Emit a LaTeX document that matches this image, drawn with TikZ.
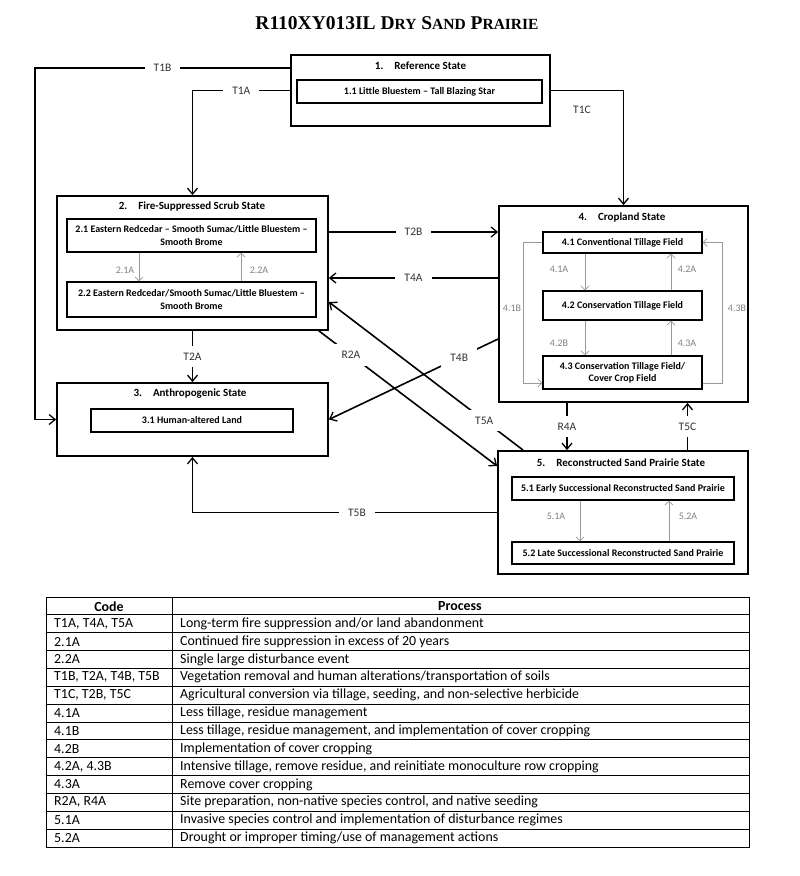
\documentclass[tikz,border=0pt]{standalone}
\usepackage{fontspec}
\setmainfont{Carlito}
\newfontfamily\titlefont{Liberation Serif}
\usetikzlibrary{arrows.meta,calc}
\newcommand\fakesc[1]{{\fontsize{15.5}{18}\selectfont #1}}
\begin{document}
\begin{tikzpicture}[x=1pt,y=-1pt,
  statebox/.style={draw,line width=1.8pt,inner sep=0pt},
  subbox/.style={draw,line width=1.1pt,inner sep=0pt,font=\fontsize{10}{12.3}\selectfont\bfseries,align=center},
  stitle/.style={font=\fontsize{11}{13}\selectfont\bfseries,inner sep=0pt},
  conn/.style={line width=1.6pt,-{Straight Barb[length=6pt,width=10pt,line width=1.3pt]}},
  lbl/.style={fill=white,text=black!80,font=\fontsize{11.5}{13}\selectfont,inner xsep=9pt,inner ysep=7pt},
  iconn/.style={draw=black!40,line width=0.9pt,-{Straight Barb[length=4pt,width=8pt,line width=0.8pt]}},
  ilbl/.style={text=black!50,font=\fontsize{10}{12}\selectfont,inner sep=0pt},
  tbl/.style={font=\fontsize{13.9}{15}\selectfont,inner sep=0pt}
]
\useasboundingbox (0,0) rectangle (800,876);

% title
\node[inner sep=0pt,font=\titlefont\bfseries\fontsize{19.5}{22}\selectfont] (title) at (397,23)
  {R110XY013IL D\fakesc{RY} S\fakesc{AND} P\fakesc{RAIRIE}};

% state 1
\node[statebox,minimum width=259pt,minimum height=71pt] (s1) at (420.5,90.5) {};
\node[stitle] (s1t) at (420.5,66) {1.\hspace{11pt}Reference State};
\node[subbox,minimum width=245pt,minimum height=23pt] (r11) at (419.5,91.5) {1.1 Little Bluestem – Tall Blazing Star};

% state 2
\node[statebox,minimum width=271pt,minimum height=134pt] (s2) at (192.5,263) {};
\node[stitle] (s2t) at (192,207) {2.\hspace{11pt}Fire-Suppressed Scrub State};
\node[subbox,minimum width=249pt,minimum height=33pt] (r21) at (191.5,235.5) {2.1 Eastern Redcedar – Smooth Sumac/Little Bluestem –\\Smooth Brome};
\node[subbox,minimum width=249pt,minimum height=35pt] (r22) at (191.5,299.5) {2.2 Eastern Redcedar/Smooth Sumac/Little Bluestem –\\Smooth Brome};

% state 3
\node[statebox,minimum width=271pt,minimum height=73pt] (s3) at (192.5,419.5) {};
\node[stitle] (s3t) at (190,394) {3.\hspace{11pt}Anthropogenic State};
\node[subbox,minimum width=202pt,minimum height=23pt] (r31) at (192,420.5) {3.1 Human-altered Land};

% state 4
\node[statebox,minimum width=249pt,minimum height=196pt] (s4) at (623.5,304) {};
\node[stitle] (s4t) at (622,218) {4.\hspace{11pt}Cropland State};
\node[subbox,minimum width=159pt,minimum height=21pt] (r41) at (622.5,242.5) {4.1 Conventional Tillage Field};
\node[subbox,minimum width=159pt,minimum height=29pt] (r42) at (622.5,305.5) {4.2 Conservation Tillage Field};
\node[subbox,minimum width=159pt,minimum height=33pt] (r43) at (622.5,372.5) {4.3 Conservation Tillage Field/\\Cover Crop Field};

% state 5
\node[statebox,minimum width=250pt,minimum height=123pt] (s5) at (623,512.5) {};
\node[stitle] (s5t) at (621,463) {5.\hspace{11pt}Reconstructed Sand Prairie State};
\node[subbox,minimum width=222pt,minimum height=23pt] (r51) at (623,488.5) {5.1 Early Successional Reconstructed Sand Prairie};
\node[subbox,minimum width=222pt,minimum height=22pt] (r52) at (623,553) {5.2 Late Successional Reconstructed Sand Prairie};

% helper coordinates
\coordinate (t1bc) at (35,68);
\coordinate (t2bs) at ([yshift=31pt]s2.east);
\coordinate (t4as) at ([yshift=-15pt]s2.east);
\coordinate (t4bs) at ([yshift=-35pt]s4.west);
\coordinate (r2as) at ([xshift=-10pt]s2.south east);
\coordinate (r2ae) at ([yshift=46.5pt]s5.west);
\coordinate (t5as) at ([xshift=26pt]s5.north west);
\coordinate (t5ae) at ([yshift=-39pt]s2.east);
\coordinate (r4a) at ([xshift=-56.5pt]s4.south);
\coordinate (t5c) at ([xshift=64.5pt]s5.north);

% main connectors
\draw[conn] ([yshift=22.5pt]s1.west) -- node[lbl]{T1B} (t1bc) |- (s3.west);
\draw[conn] (s1.west) -- node[lbl]{T1A} (s1.west -| s2.north) -- (s2.north);
\draw[conn] (s1.east) -| (s4.north);
\node[text=black!80,font=\fontsize{11.5}{13}\selectfont,inner sep=0pt] (t1cl) at (582,110) {T1C};
\draw[conn] (t2bs) -- node[lbl]{T2B} (t2bs -| s4.west);
\draw[conn] (t4as -| s4.west) -- node[lbl]{T4A} (t4as);
\draw[conn] (s2.south) -- node[lbl]{T2A} (s3.north);
\draw[conn] (t4bs) -- node[lbl,pos=.23]{T4B} (s3.east);
\draw[conn] (r2as) -- node[lbl,pos=.18]{R2A} (r2ae);
\draw[conn] (t5as) -- node[lbl,pos=.2]{T5A} (t5ae);
\draw[conn] (r4a) -- node[lbl]{R4A} (r4a |- s5.north);
\draw[conn] (t5c) -- node[lbl]{T5C} (t5c |- s4.south);
\draw[conn] (s5.west) -- node[lbl,pos=.46]{T5B} (s5.west -| s3.south) -- (s3.south);

% inner transitions state 2
\coordinate (a21) at ([xshift=-52.5pt]r21.south);
\coordinate (a22) at ([xshift=49.5pt]r22.north);
\draw[iconn] (a21) -- (a21 |- r22.north);
\draw[iconn] (a22) -- (a22 |- r21.south);
\node[ilbl] (l21a) at (125,270) {2.1A};
\node[ilbl] (l22a) at (259,270) {2.2A};

% inner transitions state 4
\coordinate (a41) at ([xshift=-37.5pt]r41.south);
\coordinate (a42) at ([xshift=48.5pt]r42.north);
\coordinate (a42b) at ([xshift=-37.5pt]r42.south);
\coordinate (a43) at ([xshift=48.5pt]r43.north);
\draw[iconn] (a41) -- (a41 |- r42.north);
\draw[iconn] (a42) -- (a42 |- r41.south);
\draw[iconn] (a42b) -- (a42b |- r43.north);
\draw[iconn] (a43) -- (a43 |- r42.south);
\node[ilbl] (l41a) at (559,269) {4.1A};
\node[ilbl] (l42a) at (687,269) {4.2A};
\node[ilbl] (l42b) at (559,343) {4.2B};
\node[ilbl] (l43a) at (687,343) {4.3A};
\coordinate (b41) at (523,242.5);
\coordinate (b43) at ([yshift=-10.5pt]r43.west);
\coordinate (b43e) at ([yshift=-10.5pt]r43.east);
\draw[iconn] (r41.west) -- (b41) |- (b43);
\draw[iconn] (b43e) -- (b43e -| 722,0) |- (r41.east);
\node[ilbl] (l41b) at (512,308) {4.1B};
\node[ilbl] (l43b) at (737,308) {4.3B};

% inner transitions state 5
\coordinate (a51) at ([xshift=-43pt]r51.south);
\coordinate (a52) at ([xshift=46pt]r52.north);
\draw[iconn] (a51) -- (a51 |- r52.north);
\draw[iconn] (a52) -- (a52 |- r51.south);
\node[ilbl] (l51a) at (556,516) {5.1A};
\node[ilbl] (l52a) at (688,516) {5.2A};

% table
\draw[line width=0.9pt] (46,597) rectangle (749,847);
\foreach \i in {1,...,13} \draw[line width=0.8pt] (46,{597+\i*17.857}) -- (749,{597+\i*17.857});
\draw[line width=0.8pt] (172,597) -- (172,847);
\node[tbl,font=\fontsize{13.9}{15}\selectfont\bfseries] (hc) at (109,606.4) {Code};
\node[tbl,font=\fontsize{13.9}{15}\selectfont\bfseries] (hp) at (460,606.4) {Process};
\foreach \c/\p [count=\i] in {
 {T1A, T4A, T5A}/{Long-term fire suppression and/or land abandonment},
 {2.1A}/{Continued fire suppression in excess of 20 years},
 {2.2A}/{Single large disturbance event},
 {T1B, T2A, T4B, T5B}/{Vegetation removal and human alterations/transportation of soils},
 {T1C, T2B, T5C}/{Agricultural conversion via tillage, seeding, and non-selective herbicide},
 {4.1A}/{Less tillage, residue management},
 {4.1B}/{Less tillage, residue management, and implementation of cover cropping},
 {4.2B}/{Implementation of cover cropping},
 {4.2A, 4.3B}/{Intensive tillage, remove residue, and reinitiate monoculture row cropping},
 {4.3A}/{Remove cover cropping},
 {R2A, R4A}/{Site preparation, non-native species control, and native seeding},
 {5.1A}/{Invasive species control and implementation of disturbance regimes},
 {5.2A}/{Drought or improper timing/use of management actions}} {
  \node[tbl,anchor=west] (c\i) at (54,{597+(\i+0.5)*17.857}) {\c};
  \node[tbl,anchor=west] (p\i) at (180,{597+(\i+0.5)*17.857}) {\p};
}
\end{tikzpicture}
\end{document}
